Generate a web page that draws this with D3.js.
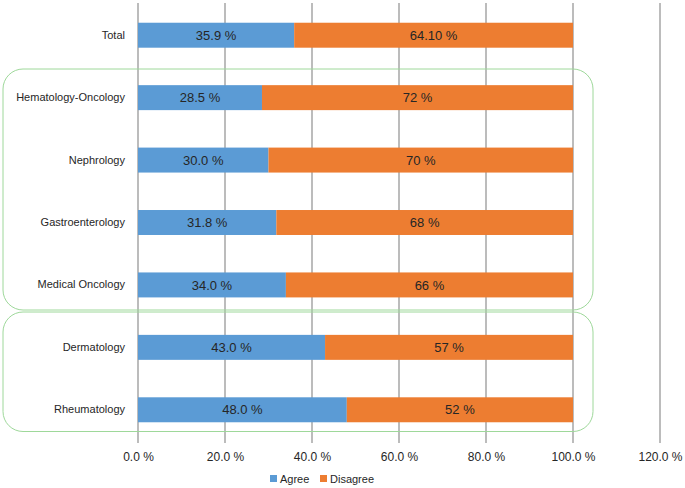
<!DOCTYPE html>
<html><head><meta charset="utf-8">
<script src="https://cdn.jsdelivr.net/npm/d3@7"></script>
<style>body{margin:0;background:#fff}svg{display:block;font-family:"Liberation Sans",Arial,sans-serif}</style>
</head><body><svg id="c" width="685" height="488"></svg>
<script>
const categories = ["Total","Hematology-Oncology","Nephrology","Gastroenterology","Medical Oncology","Dermatology","Rheumatology"];
const agree = [35.9, 28.5, 30.0, 31.8, 34.0, 43.0, 48.0];
const disagree = [64.1, 71.5, 70.0, 68.2, 66.0, 57.0, 52.0];
const agreeLabels = ["35.9 %","28.5 %","30.0 %","31.8 %","34.0 %","43.0 %","48.0 %"];
const disagreeLabels = ["64.10 %","72 %","70 %","68 %","66 %","57 %","52 %"];
const xTicks = [0,20,40,60,80,100,120];
const xTickLabels = ["0.0 %","20.0 %","40.0 %","60.0 %","80.0 %","100.0 %","120.0 %"];
const seriesNames = ["Agree","Disagree"];
const colors = ["#5b9bd5","#ed7d31"];
const groups = [[1,4],[5,6]];

const svg = d3.select("#c");
const x = d3.scaleLinear().domain([0,120]).range([138,660]);
const y = d3.scaleBand().domain(categories).range([4,441]).paddingInner(0.6).paddingOuter(0.3);

// gridlines
svg.append("g").selectAll("line").data(xTicks).join("line")
  .attr("x1",d=>x(d)).attr("x2",d=>x(d)).attr("y1",3).attr("y2",443)
  .attr("stroke","#a6a6a6").attr("stroke-width",1.5);

// group boxes
const step = y.step();
groups.forEach((g,i)=>{
  const top = i===0 ? 69 : 312;
  const bottom = i===0 ? 310 : 431.5;
  svg.append("rect").attr("x",3).attr("y",top).attr("width",590).attr("height",bottom-top)
    .attr("rx",20).attr("ry",20).attr("fill","none").attr("stroke","#9ed89a").attr("stroke-width",1);
});

const data = categories.map((c,i)=>({c,a:agree[i],d:disagree[i],al:agreeLabels[i],dl:disagreeLabels[i]}));
const bars = svg.append("g");
bars.selectAll("rect.a").data(data).join("rect").attr("class","a")
  .attr("x",x(0)).attr("y",d=>y(d.c)).attr("width",d=>x(d.a)-x(0)).attr("height",y.bandwidth())
  .attr("fill",colors[0]);
bars.selectAll("rect.d").data(data).join("rect").attr("class","d")
  .attr("x",d=>x(d.a)).attr("y",d=>y(d.c)).attr("width",d=>x(d.a+d.d)-x(d.a)).attr("height",y.bandwidth())
  .attr("fill",colors[1]);
bars.selectAll("text.a").data(data).join("text").attr("class","a")
  .attr("x",d=>(x(0)+x(d.a))/2).attr("y",d=>y(d.c)+y.bandwidth()/2).attr("dy","0.36em")
  .attr("text-anchor","middle").attr("font-size",13).attr("fill","#262626").text(d=>d.al);
bars.selectAll("text.d").data(data).join("text").attr("class","d")
  .attr("x",d=>(x(d.a)+x(d.a+d.d))/2).attr("y",d=>y(d.c)+y.bandwidth()/2).attr("dy","0.36em")
  .attr("text-anchor","middle").attr("font-size",13).attr("fill","#262626").text(d=>d.dl);

// category labels
const yAxis = d3.axisLeft(y).tickSize(0).tickPadding(13);
const ya = svg.append("g").attr("transform",`translate(${x(0)},0)`).call(yAxis);
ya.select(".domain").remove();
ya.selectAll("text").attr("font-size",11).attr("fill","#262626").attr("font-family","Liberation Sans, Arial, sans-serif");

// x axis labels
const xAxis = d3.axisBottom(x).tickValues(xTicks).tickSize(0).tickPadding(0).tickFormat((d,i)=>xTickLabels[i]);
const xa = svg.append("g").attr("transform","translate(0,452)").call(xAxis);
xa.select(".domain").remove();
xa.selectAll("text").attr("font-size",12).attr("fill","#262626").attr("font-family","Liberation Sans, Arial, sans-serif");

// legend
const leg = svg.append("g");
const lx = [270,320];
seriesNames.forEach((n,i)=>{
  leg.append("rect").attr("x",lx[i]).attr("y",475).attr("width",7).attr("height",7).attr("fill",colors[i]);
  leg.append("text").attr("x",lx[i]+10).attr("y",483).attr("font-size",11).attr("fill","#262626").text(n);
});
</script></body></html>
